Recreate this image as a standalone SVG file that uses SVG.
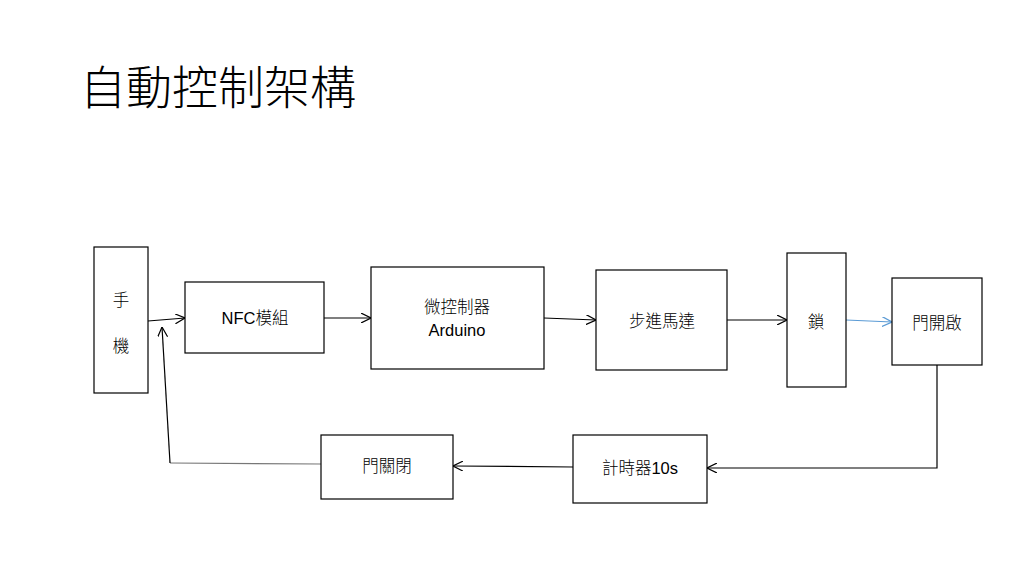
<svg xmlns="http://www.w3.org/2000/svg" width="1024" height="576" viewBox="0 0 1024 576">
<defs>
<style>
.box{fill:#fff;stroke:#000;stroke-width:1.2}
.t{font-family:"Liberation Sans","Noto Sans CJK TC",sans-serif;font-size:16.5px;fill:#000;text-anchor:middle;font-weight:300}
.c{stroke:#000;stroke-width:1.2;fill:none}
.title{font-family:"Noto Sans CJK TC","Noto Sans CJK SC",sans-serif;font-size:46px;font-weight:300;fill:#000}
</style>
<marker id="a" viewBox="0 0 10 10" refX="10" refY="5" markerWidth="10" markerHeight="10" markerUnits="userSpaceOnUse" orient="auto">
<path d="M0,0 L10,5 L0,10" fill="none" stroke="#000" stroke-width="1.2"/>
</marker>
<marker id="ab" viewBox="0 0 10 10" refX="10" refY="5" markerWidth="10" markerHeight="10" markerUnits="userSpaceOnUse" orient="auto">
<path d="M0,0 L10,5 L0,10" fill="none" stroke="#5b9bd5" stroke-width="1.2"/>
</marker>
</defs>
<rect width="1024" height="576" fill="#fff"/>
<text class="title" x="80" y="104">自動控制架構</text>
<g id="connectors">
<line class="c" x1="148" y1="321" x2="185" y2="318" marker-end="url(#a)"/>
<line class="c" x1="324" y1="318" x2="371" y2="318" marker-end="url(#a)"/>
<line class="c" x1="544" y1="318" x2="596" y2="320" marker-end="url(#a)"/>
<line class="c" x1="727" y1="320" x2="787" y2="320" marker-end="url(#a)"/>
<line x1="846" y1="320" x2="892" y2="322" stroke="#5b9bd5" stroke-width="1.2" marker-end="url(#ab)"/>
<polyline class="c" points="937,365 937,468 707,468" marker-end="url(#a)"/>
<line class="c" x1="573" y1="467" x2="453" y2="466" marker-end="url(#a)"/>
<polyline points="321,464 170,463" fill="none" stroke="#777" stroke-width="1.2"/>
<line class="c" x1="170" y1="463" x2="162" y2="327" marker-end="url(#a)"/>
</g>
<g id="phone"><rect class="box" x="94" y="247" width="54" height="146"/><text class="t" x="121" y="306">手</text><text class="t" x="121" y="352">機</text></g>
<g id="nfc"><rect class="box" x="185" y="282" width="139" height="71"/><text class="t" x="255" y="324">NFC模組</text></g>
<g id="mcu"><rect class="box" x="371" y="267" width="173" height="102"/><text class="t" x="457" y="313">微控制器</text><text class="t" x="457" y="336">Arduino</text></g>
<g id="motor"><rect class="box" x="596" y="270" width="131" height="100"/><text class="t" x="662" y="327">步進馬達</text></g>
<g id="lock"><rect class="box" x="787" y="253" width="59" height="134"/><text class="t" x="816" y="328">鎖</text></g>
<g id="open"><rect class="box" x="892" y="278" width="90" height="87"/><text class="t" x="937" y="329">門開啟</text></g>
<g id="timer"><rect class="box" x="573" y="435" width="134" height="68"/><text class="t" x="640" y="474">計時器10s</text></g>
<g id="close"><rect class="box" x="321" y="435" width="132" height="64"/><text class="t" x="387" y="472">門關閉</text></g>
</svg>
